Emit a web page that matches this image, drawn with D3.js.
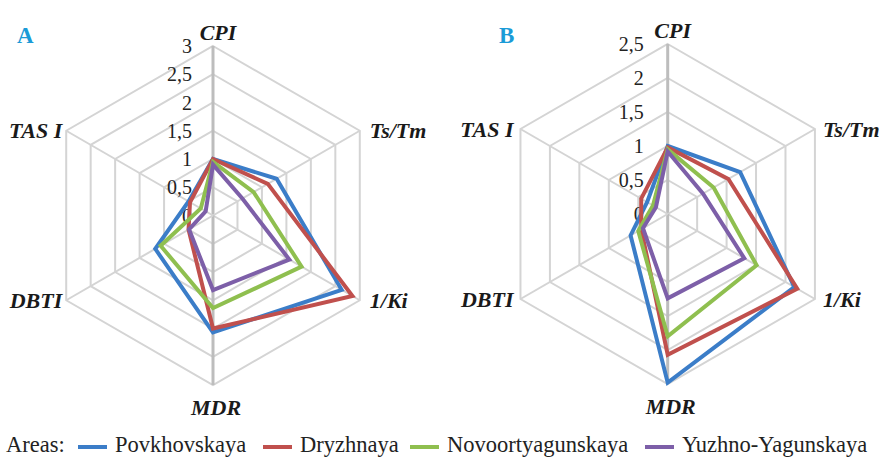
<!DOCTYPE html>
<html>
<head>
<meta charset="utf-8">
<script src="https://cdn.jsdelivr.net/npm/d3@7"></script>
<style>
  body { margin: 0; background: #fff; }
</style>
</head>
<body>
<div id="chart"></div>
<script>
"use strict";

// Data
const axes = ["CPI", "Ts/Tm", "1/Ki", "MDR", "DBTI", "TAS I"];
const areas = ["Povkhovskaya", "Dryzhnaya", "Novoortyagunskaya", "Yuzhno-Yagunskaya"];
const colors = ["#3b7dc8", "#c0504d", "#8fbf4f", "#7d5fa8"];

const ticksA = [0, 0.5, 1, 1.5, 2, 2.5, 3];
const povkhA = [1.0, 1.3, 2.63, 2.07, 1.18, 0.5];
const dryzhA = [1.0, 1.12, 2.85, 2.0, 0.5, 0.47];
const novooA = [0.95, 0.83, 1.81, 1.64, 1.07, 0.25];
const yuzhnA = [0.9, 0.6, 1.56, 1.32, 0.49, 0.15];

const ticksB = [0, 0.5, 1, 1.5, 2, 2.5];
const povkhB = [1.0, 1.23, 2.15, 2.48, 0.63, 0.35];
const dryzhB = [0.98, 1.03, 2.2, 2.07, 0.45, 0.45];
const novooB = [0.95, 0.78, 1.51, 1.8, 0.5, 0.25];
const yuzhnB = [0.92, 0.6, 1.3, 1.24, 0.42, 0.2];

const width = 879, height = 458;
const serif = "'Liberation Serif', 'Times New Roman', serif";

const svg = d3.select("#chart")
  .append("svg")
  .attr("width", width)
  .attr("height", height)
  .style("font-family", serif);

const fmt = v => String(v).replace(".", ",");
const angle = i => i * 2 * Math.PI / axes.length;

function drawRadar(cfg) {
  const g = svg.append("g").attr("transform", `translate(${cfg.cx},${cfg.cy})`);
  const r = d3.scaleLinear().domain([0, d3.max(cfg.ticks)]).range([0, cfg.radius]);

  // rings
  const ring = d3.lineRadial()
    .angle((d, i) => angle(i))
    .radius(d => r(d))
    .curve(d3.curveLinearClosed);

  g.selectAll(".ring")
    .data(cfg.ticks.filter(t => t > 0))
    .join("path")
      .attr("d", t => ring(axes.map(() => t)))
      .attr("fill", "none")
      .attr("stroke", "#d4d4d4")
      .attr("stroke-width", 2);

  // spokes
  g.selectAll(".spoke")
    .data(axes)
    .join("line")
      .attr("x1", 0).attr("y1", 0)
      .attr("x2", (d, i) => r(d3.max(cfg.ticks)) * Math.sin(angle(i)))
      .attr("y2", (d, i) => -r(d3.max(cfg.ticks)) * Math.cos(angle(i)))
      .attr("stroke", (d, i) => (i === 0 || i === 3) ? "#bdbdbd" : "#d4d4d4")
      .attr("stroke-width", (d, i) => (i === 0 || i === 3) ? 3 : 2);

  // tick labels
  g.selectAll(".tick")
    .data(cfg.ticks)
    .join("text")
      .attr("x", -cfg.tickOffset)
      .attr("y", t => -r(t))
      .attr("dy", "0.35em")
      .attr("text-anchor", "end")
      .attr("font-size", 20)
      .attr("fill", "#222")
      .text(fmt);

  // series
  const line = d3.lineRadial()
    .angle((d, i) => angle(i))
    .radius(d => r(d))
    .curve(d3.curveLinearClosed);

  g.selectAll(".series")
    .data(cfg.series)
    .join("path")
      .attr("d", d => line(d))
      .attr("fill", "none")
      .attr("stroke", (d, i) => colors[i])
      .attr("stroke-width", 4)
      .attr("stroke-linejoin", "miter");

  // axis labels
  const R = cfg.radius;
  const lab = [
    { x: 5, y: -R - 14, anchor: "middle" },
    { x: R * Math.sin(angle(1)) + cfg.rightGap, y: -R * 0.5, anchor: "start" },
    { x: R * Math.sin(angle(2)) + cfg.rightGap, y: R * 0.5, anchor: "start" },
    { x: 3, y: R + 22, anchor: "middle" },
    { x: R * Math.sin(angle(4)) - cfg.leftGap, y: R * 0.5, anchor: "end" },
    { x: R * Math.sin(angle(5)) - cfg.leftGap, y: -R * 0.5, anchor: "end" }
  ];
  g.selectAll(".axlab")
    .data(axes)
    .join("text")
      .attr("x", (d, i) => lab[i].x)
      .attr("y", (d, i) => lab[i].y)
      .attr("dy", "0.35em")
      .attr("text-anchor", (d, i) => lab[i].anchor)
      .attr("font-size", 22)
      .attr("font-weight", "bold")
      .attr("font-style", "italic")
      .attr("fill", "#1a1a1a")
      .text(d => d);

  svg.append("text")
    .attr("x", cfg.letterX)
    .attr("y", 43)
    .attr("font-size", 23)
    .attr("font-weight", "bold")
    .attr("fill", "#1b9bd7")
    .text(cfg.letter);
}

drawRadar({
  cx: 213, cy: 215.5, radius: 169.5, ticks: ticksA,
  series: [povkhA, dryzhA, novooA, yuzhnA],
  tickOffset: 21, rightGap: 10, leftGap: 4, letter: "A", letterX: 17
});

drawRadar({
  cx: 667.7, cy: 214, radius: 170, ticks: ticksB,
  series: [povkhB, dryzhB, novooB, yuzhnB],
  tickOffset: 24, rightGap: 8, leftGap: 7, letter: "B", letterX: 499
});

// legend
const legend = svg.append("g").attr("transform", "translate(0,447)");
legend.append("text")
  .attr("x", 6).attr("y", 5)
  .attr("font-size", 22.5)
  .attr("fill", "#222")
  .text("Areas:");

const legX = [78, 263, 410, 645];
const item = legend.selectAll(".item")
  .data(areas)
  .join("g")
    .attr("transform", (d, i) => `translate(${legX[i]},0)`);
item.append("line")
  .attr("x1", 0).attr("x2", 29)
  .attr("y1", 0).attr("y2", 0)
  .attr("stroke", (d, i) => colors[i])
  .attr("stroke-width", 4);
item.append("text")
  .attr("x", 37).attr("y", 5)
  .attr("font-size", 22.5)
  .attr("fill", "#222")
  .text(d => d);
</script>
</body>
</html>
